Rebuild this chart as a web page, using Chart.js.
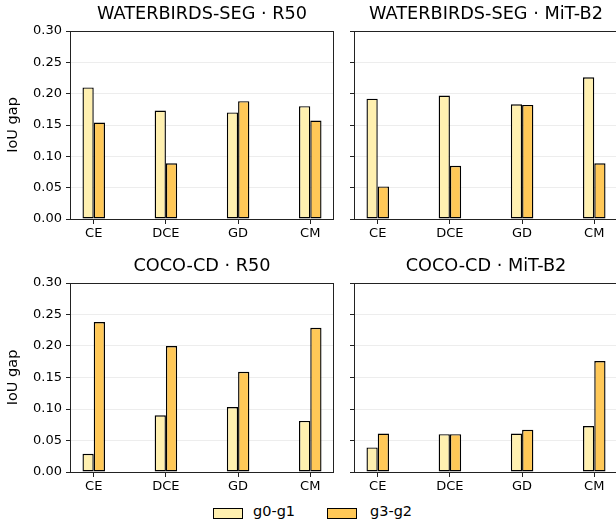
<!DOCTYPE html>
<html>
<head>
<meta charset="utf-8">
<script src="https://cdn.jsdelivr.net/npm/chart.js@4"></script>
<style>
  html, body { margin: 0; padding: 0; background: #fff; overflow: hidden; }
  body { width: 616px; height: 523px; position: relative; font-family: "DejaVu Sans", sans-serif; }
  .panel { position: absolute; }
  #legend { position: absolute; left: 0; top: 503px; width: 616px; height: 20px; font-size: 14.5px; color: #000; }
  .sw { position: absolute; top: 5px; width: 28px; height: 9px; border: 1px solid #000; }
  .lt { position: absolute; top: 0px; }
</style>
</head>
<body>
<div class="panel" style="left:0;top:0"><canvas id="c0" width="345" height="250"></canvas></div>
<div class="panel" style="left:345px;top:0"><canvas id="c1" width="290" height="250"></canvas></div>
<div class="panel" style="left:0;top:252px"><canvas id="c2" width="345" height="251"></canvas></div>
<div class="panel" style="left:345px;top:252px"><canvas id="c3" width="290" height="251"></canvas></div>
<div id="legend"></div>
<script>
// data per paneel
const categories = ["CE", "DCE", "GD", "CM"];
const seriesNames = ["g0-g1", "g3-g2"];
const seriesColors = ["#FFF0B0", "#FFC857"];
const yTicks = [0, 0.05, 0.10, 0.15, 0.20, 0.25, 0.30];

const titles = [
  "WATERBIRDS-SEG · R50",
  "WATERBIRDS-SEG · MiT-B2",
  "COCO-CD · R50",
  "COCO-CD · MiT-B2",
];

const wbR50_g01 = [0.210, 0.173, 0.170, 0.180];
const wbR50_g32 = [0.154, 0.089, 0.188, 0.157];
const wbMit_g01 = [0.192, 0.197, 0.183, 0.226];
const wbMit_g32 = [0.052, 0.085, 0.182, 0.089];
const cocoR50_g01 = [0.029, 0.090, 0.103, 0.081];
const cocoR50_g32 = [0.238, 0.200, 0.159, 0.229];
const cocoMit_g01 = [0.039, 0.060, 0.061, 0.073];
const cocoMit_g32 = [0.061, 0.060, 0.067, 0.176];

const panelData = [
  [wbR50_g01, wbR50_g32],
  [wbMit_g01, wbMit_g32],
  [cocoR50_g01, cocoR50_g32],
  [cocoMit_g01, cocoMit_g32],
];

const ink = "#222";
const font = { family: "'DejaVu Sans', sans-serif", size: 13 };

// rand om het plotgebied (matplotlib spines)
const framePlugin = {
  id: "frame",
  afterDatasetsDraw(chart) {
    const { ctx, chartArea: a } = chart;
    ctx.save();
    ctx.strokeStyle = ink;
    ctx.lineWidth = 1;
    ctx.strokeRect(Math.round(a.left) - 0.5, Math.round(a.top) + 0.5,
      Math.round(a.right - a.left) + 1, Math.round(a.bottom - a.top));
    ctx.restore();
  },
};

function makePanel(idx) {
  const isLeft = idx % 2 === 0;
  const ctx = document.getElementById("c" + idx).getContext("2d");
  const datasets = panelData[idx].map((vals, s) => ({
    label: seriesNames[s],
    data: vals.map((v, i) => ({ x: i, y: v })),
    backgroundColor: seriesColors[s],
    borderColor: "#000",
    borderWidth: 1.4,
    borderSkipped: false,
    categoryPercentage: 0.312,
    barPercentage: 1,
  }));

  return new Chart(ctx, {
    type: "bar",
    data: { datasets },
    plugins: [framePlugin],
    options: {
      responsive: false,
      animation: false,
      layout: { padding: { left: 0, right: isLeft ? 12 : 18, top: 0, bottom: 0 } },
      plugins: {
        legend: { display: false },
        tooltip: { enabled: false },
        title: {
          display: true,
          text: titles[idx],
          fullSize: false,
          color: "#000",
          font: { family: font.family, size: 17.7, weight: "normal", lineHeight: "21px" },
          padding: { top: 4, bottom: 6 },
        },
      },
      scales: {
        x: {
          type: "linear",
          min: -0.315,
          max: 3.315,
          offset: false,
          afterFit: (s) => { s.height = 31; },
          afterBuildTicks: (s) => { s.ticks = categories.map((c, i) => ({ value: i })); },
          ticks: {
            color: "#000",
            font,
            padding: 2,
            maxRotation: 0,
            autoSkip: false,
            callback: (v) => categories[v],
          },
          grid: { offset: false, drawOnChartArea: false, tickLength: 5, tickColor: ink },
          border: { display: false },
        },
        y: {
          min: 0,
          max: 0.3,
          afterFit: (s) => { s.width = isLeft ? 71 : 10; },
          afterBuildTicks: (s) => { s.ticks = yTicks.map((v) => ({ value: v })); },
          ticks: {
            display: isLeft,
            color: "#000",
            font,
            padding: 4,
            callback: (v) => v.toFixed(2),
          },
          title: {
            display: isLeft,
            text: "IoU gap",
            color: "#000",
            font: { family: font.family, size: 14.5 },
            padding: { top: 5, bottom: 0 },
          },
          grid: { color: "rgba(0,0,0,0.07)", tickLength: 5, tickColor: ink },
          border: { display: false },
        },
      },
    },
  });
}

// legenda onderaan
function buildLegend() {
  const el = document.getElementById("legend");
  const swX = [213, 327];
  const txX = [253, 370];
  seriesNames.forEach((name, i) => {
    const sw = document.createElement("div");
    sw.className = "sw";
    sw.style.left = swX[i] + "px";
    sw.style.background = seriesColors[i];
    el.appendChild(sw);
    const t = document.createElement("div");
    t.className = "lt";
    t.style.left = txX[i] + "px";
    t.textContent = name;
    el.appendChild(t);
  });
}

for (let i = 0; i < 4; i++) makePanel(i);
buildLegend();
</script>
</body>
</html>
